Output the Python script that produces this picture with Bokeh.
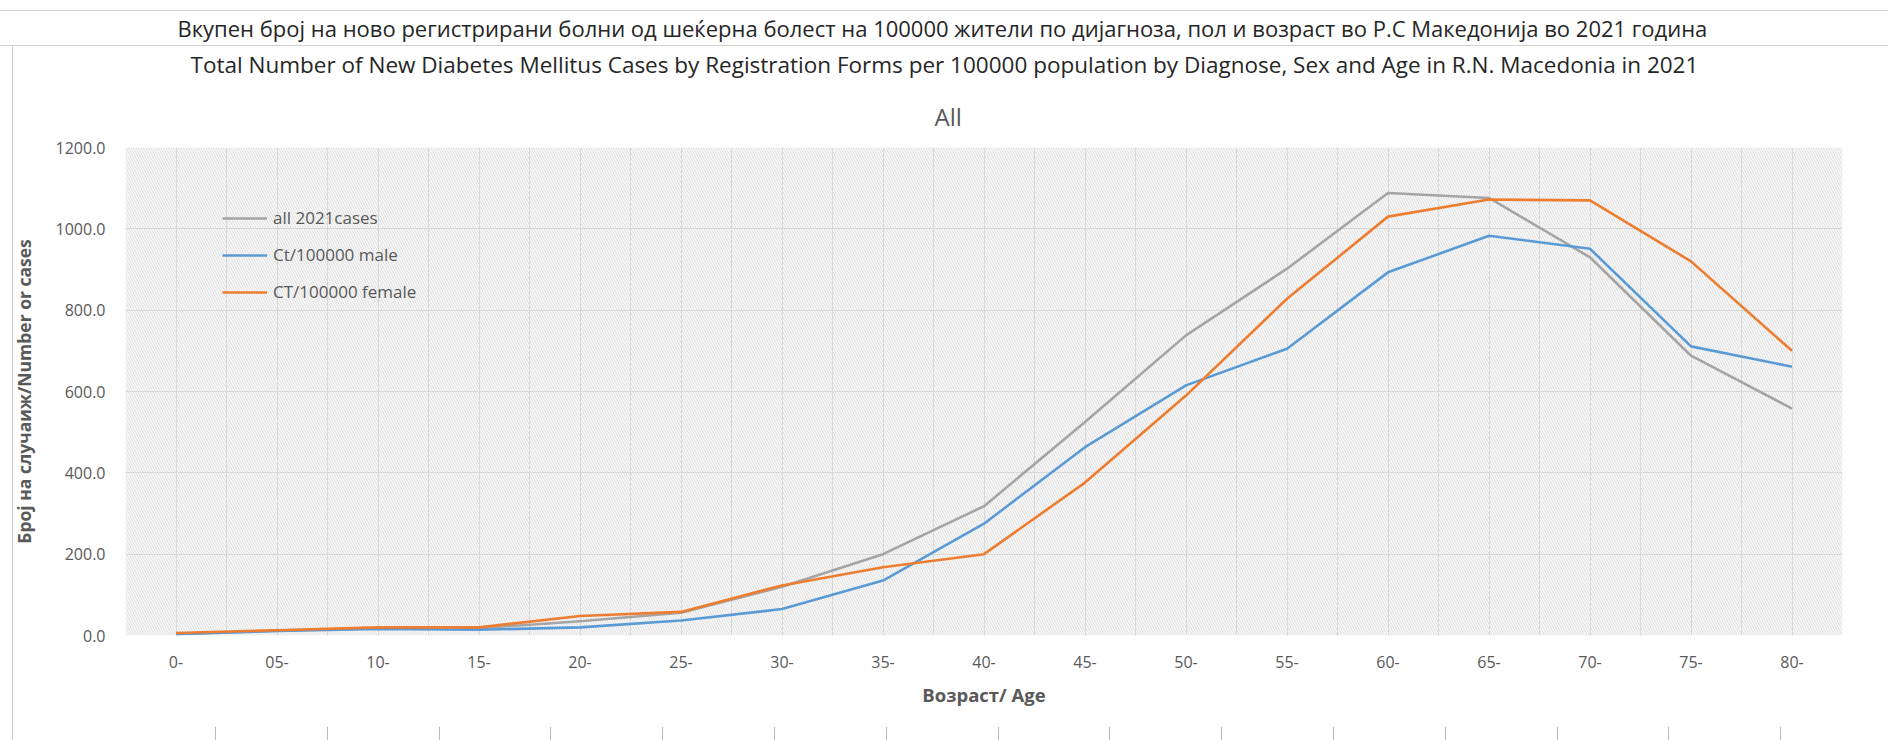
from bokeh.plotting import figure
from bokeh.models import (Range1d, FixedTicker, Legend, LegendItem, BoxAnnotation,
                          Title, NumeralTickFormatter, InlineStyleSheet)
from bokeh.embed import file_html
from bokeh.resources import INLINE

# ---- data ----
ages = ["0-", "05-", "10-", "15-", "20-", "25-", "30-", "35-", "40-", "45-",
        "50-", "55-", "60-", "65-", "70-", "75-", "80-"]
all_cases = [4, 12, 18, 18, 35, 56, 120, 200, 318, 525, 738, 902, 1088, 1076, 930, 688, 558]
male = [3, 11, 16, 14, 20, 37, 65, 135, 275, 463, 615, 705, 893, 983, 951, 711, 661]
female = [6, 13, 20, 20, 48, 58, 123, 168, 200, 376, 590, 828, 1030, 1072, 1070, 920, 700]
y_ticks = [0, 200, 400, 600, 800, 1000, 1200]
series_names = ["all 2021cases", "Ct/100000 male", "CT/100000 female"]
series_colors = ["#a5a5a5", "#5b9bd5", "#ed7d31"]

title_mk = ("Вкупен број на ново регистрирани болни од шеќерна болест на 100000 жители "
            "по дијагноза, пол и возраст во Р.С Македонија во 2021 година")
title_en = ("Total Number of New Diabetes Mellitus Cases by Registration Forms per 100000 "
            "population by Diagnose, Sex and Age in R.N. Macedonia in 2021")
subtitle = "All"
y_label = "Број на случаиж/Number or cases"
x_label = "Возраст/ Age"

FONT = "Open Sans"
W, H = 1888, 740

x_pos = [i + 0.5 for i in range(len(ages))]

# spreadsheet cell borders behind the chart (page decoration)
sheet_css = """
:host {
  background:
    linear-gradient(#d4d4d4, #d4d4d4) 0 10px / 100% 1px no-repeat,
    linear-gradient(#d4d4d4, #d4d4d4) 0 45px / 100% 1px no-repeat,
    linear-gradient(#d0d0d0, #d0d0d0) 12px 45px / 1px 100% no-repeat,
    repeating-linear-gradient(to right, #b8b8b8 0 1px, transparent 1px 111.8px) 215px 727px / 1567px 13px no-repeat,
    #ffffff;
}
"""

p = figure(width=W, height=H, output_backend="svg", toolbar_location=None, title=None,
           x_range=Range1d(0, len(ages)), y_range=Range1d(0, 1200),
           min_border_left=125, min_border_right=46, min_border_top=147, min_border_bottom=105,
           stylesheets=[InlineStyleSheet(css=sheet_css)])

p.background_fill_color = "#fbfbfb"
p.border_fill_alpha = 0
p.outline_line_color = None

# hatched plot area
hatch = BoxAnnotation(fill_alpha=0, line_alpha=0, hatch_pattern="\\",
                      hatch_color="#dcdcdc", hatch_scale=5, hatch_weight=1, level="underlay")
p.add_layout(hatch)
p.center = [hatch] + [r for r in p.center if r is not hatch]

# grids
p.xgrid.ticker = FixedTicker(ticks=[k * 0.5 for k in range(1, 2 * len(ages))])
p.xgrid.grid_line_color = "#d9d9d9"
p.ygrid.grid_line_color = "#d9d9d9"
p.xgrid.grid_line_width = 1
p.ygrid.grid_line_width = 1

# axes
p.xaxis.ticker = FixedTicker(ticks=x_pos)
p.xaxis.major_label_overrides = {x: a for x, a in zip(x_pos, ages)}
p.yaxis.ticker = FixedTicker(ticks=y_ticks)
p.yaxis.formatter = NumeralTickFormatter(format="0.0")
for ax in (p.xaxis[0], p.yaxis[0]):
    ax.axis_line_color = None
    ax.major_tick_line_color = None
    ax.minor_tick_line_color = None
    ax.major_label_text_font = FONT
    ax.major_label_text_font_size = "16px"
    ax.major_label_text_color = "#595959"
    ax.axis_label_text_font = FONT
    ax.axis_label_text_font_style = "bold"
    ax.axis_label_text_color = "#595959"
p.xaxis.major_label_standoff = 14
p.yaxis.major_label_standoff = 14
p.xaxis.axis_label = x_label
p.xaxis.axis_label_text_font_size = "18.5px"
p.xaxis.axis_label_standoff = 11
p.yaxis.axis_label = y_label
p.yaxis.axis_label_text_font_size = "17.5px"
p.yaxis.axis_label_standoff = 17

# lines
renderers = []
for vals, col in zip([all_cases, male, female], series_colors):
    r = p.line(x_pos, vals, line_color=col, line_width=2.6, line_join="round")
    renderers.append(r)

legend = Legend(items=[LegendItem(label=n, renderers=[r]) for n, r in zip(series_names, renderers)],
                location=(97, 332), orientation="vertical", glyph_width=45, glyph_height=20,
                label_height=20, label_standoff=6, spacing=14, padding=0, margin=0,
                border_line_alpha=0, background_fill_alpha=0,
                label_text_font=FONT, label_text_font_size="17px", label_text_color="#595959")
p.add_layout(legend)

# titles (closest to frame first)
p.add_layout(Title(text=subtitle, align="left", offset=809, standoff=30,
                   text_font=FONT, text_font_size="24px", text_font_style="normal",
                   text_color="#595959"), "above")
p.add_layout(Title(text=title_en, align="left", offset=65, standoff=6,
                   text_font=FONT, text_font_size="22.5px", text_font_style="normal",
                   text_color="#262626"), "above")
p.add_layout(Title(text=title_mk, align="left", offset=52, standoff=2,
                   text_font=FONT, text_font_size="22px", text_font_style="normal",
                   text_color="#262626"), "above")

open("out.html", "w").write(file_html(p, INLINE))
